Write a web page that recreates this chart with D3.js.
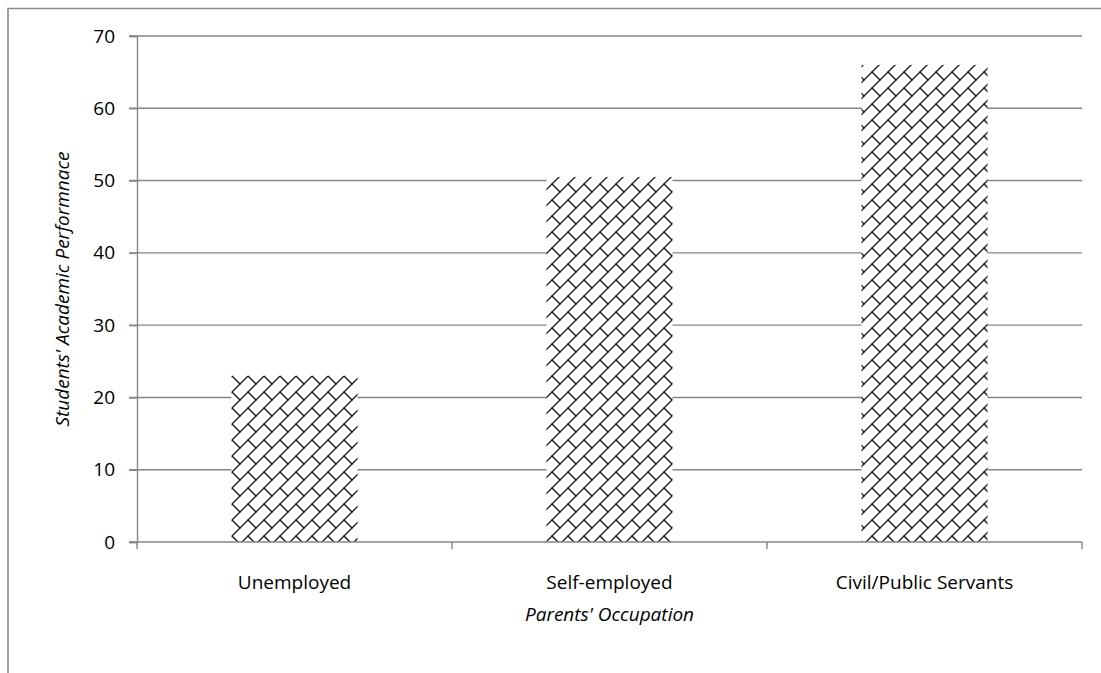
<!DOCTYPE html>
<html>
<head>
<meta charset="utf-8">
<script src="https://cdn.jsdelivr.net/npm/d3@7"></script>
<style>
  html, body { margin: 0; padding: 0; background: #fff; }
  svg { display: block; }
  text { font-family: "Open Sans", "Liberation Sans", sans-serif; fill: #000; }
</style>
</head>
<body>
<svg id="chart" width="1101" height="673"></svg>
<script>
// Mean academic performance by parents' occupation
const categories = ["Unemployed", "Self-employed", "Civil/Public Servants"];
const performance = [23, 50.5, 66];
const yTicks = [0, 10, 20, 30, 40, 50, 60, 70];
const xTitle = "Parents' Occupation";
const yTitle = "Students' Academic Performnace";

const svg = d3.select("#chart");
const W = 1101, H = 673;
const m = { left: 137, right: 1082, top: 36, bottom: 542 };
const axisGrey = "#868686";
const fontSize = "19px";

// Diagonal-brick fill
const defs = svg.append("defs");
const pat = defs.append("pattern")
  .attr("id", "brick")
  .attr("patternUnits", "userSpaceOnUse")
  .attr("width", 16).attr("height", 16)
  .attr("x", 0).attr("y", 0);
pat.append("rect").attr("width", 16).attr("height", 16).attr("fill", "#fff");
const brickLines = [
  // long edges rising to the right
  [-16, 16, 16, -16], [0, 16, 16, 0], [0, 32, 32, 0],
  // short ends descending to the right
  [8, 8, 16, 16], [-8, -8, 0, 0], [-8, 8, 0, 16], [8, -8, 16, 0]
];
pat.selectAll("line").data(brickLines).join("line")
  .attr("x1", d => d[0]).attr("y1", d => d[1])
  .attr("x2", d => d[2]).attr("y2", d => d[3])
  .attr("stroke", "#1a1a1a").attr("stroke-width", 1.35)
  .attr("stroke-linecap", "round");

// Outer frame (top and left edges)
svg.append("line").attr("x1", 7).attr("x2", W).attr("y1", 8.5).attr("y2", 8.5)
  .attr("stroke", "#8c8c8c").attr("stroke-width", 1.6);
svg.append("line").attr("x1", 8).attr("x2", 8).attr("y1", 8).attr("y2", H)
  .attr("stroke", "#8c8c8c").attr("stroke-width", 1.6);

const x = d3.scaleBand().domain(categories)
  .range([m.left, m.right]).paddingInner(0.6).paddingOuter(0.3);
const y = d3.scaleLinear().domain([0, 70]).range([m.bottom, m.top]);

// Horizontal gridlines
svg.append("g").selectAll("line").data(yTicks.filter(t => t > 0)).join("line")
  .attr("x1", m.left - 8).attr("x2", m.right)
  .attr("y1", d => y(d)).attr("y2", d => y(d))
  .attr("stroke", axisGrey).attr("stroke-width", 1.4);

// Y axis
const yAxis = svg.append("g").attr("transform", `translate(${m.left},0)`)
  .call(d3.axisLeft(y).tickValues(yTicks).tickSize(8).tickPadding(14).tickFormat(d3.format("d")));
yAxis.select(".domain").attr("stroke", axisGrey).attr("stroke-width", 1.4);
yAxis.selectAll(".tick line").attr("stroke", axisGrey).attr("stroke-width", 1.4);
yAxis.selectAll(".tick text")
  .style("font-family", "'Open Sans', sans-serif").style("font-size", fontSize).attr("fill", "#000");

// Bars
svg.append("g").selectAll("rect").data(categories).join("rect")
  .attr("x", d => x(d))
  .attr("width", x.bandwidth())
  .attr("y", (d, i) => y(performance[i]))
  .attr("height", (d, i) => y(0) - y(performance[i]))
  .attr("fill", "url(#brick)");

// X axis baseline with boundary ticks between categories
const step = x.step();
const bounds = d3.range(categories.length + 1).map(i => m.left + i * step);
svg.append("line").attr("x1", m.left - 8).attr("x2", m.right)
  .attr("y1", y(0)).attr("y2", y(0))
  .attr("stroke", axisGrey).attr("stroke-width", 1.4);
svg.append("g").selectAll("line").data(bounds).join("line")
  .attr("x1", d => d).attr("x2", d => d)
  .attr("y1", y(0)).attr("y2", y(0) + 7)
  .attr("stroke", axisGrey).attr("stroke-width", 1.4);

// Category labels
svg.append("g").selectAll("text").data(categories).join("text")
  .attr("x", d => x(d) + x.bandwidth() / 2)
  .attr("y", 589)
  .attr("text-anchor", "middle")
  .style("font-size", fontSize)
  .text(d => d);

// Axis titles
svg.append("text")
  .attr("x", (m.left + m.right) / 2).attr("y", 621)
  .attr("text-anchor", "middle")
  .style("font-size", fontSize).style("font-style", "italic")
  .text(xTitle);

svg.append("text")
  .attr("transform", `translate(69,${(m.top + m.bottom) / 2}) rotate(-90)`)
  .attr("text-anchor", "middle")
  .style("font-size", fontSize).style("font-style", "italic")
  .text(yTitle);
</script>
</body>
</html>
